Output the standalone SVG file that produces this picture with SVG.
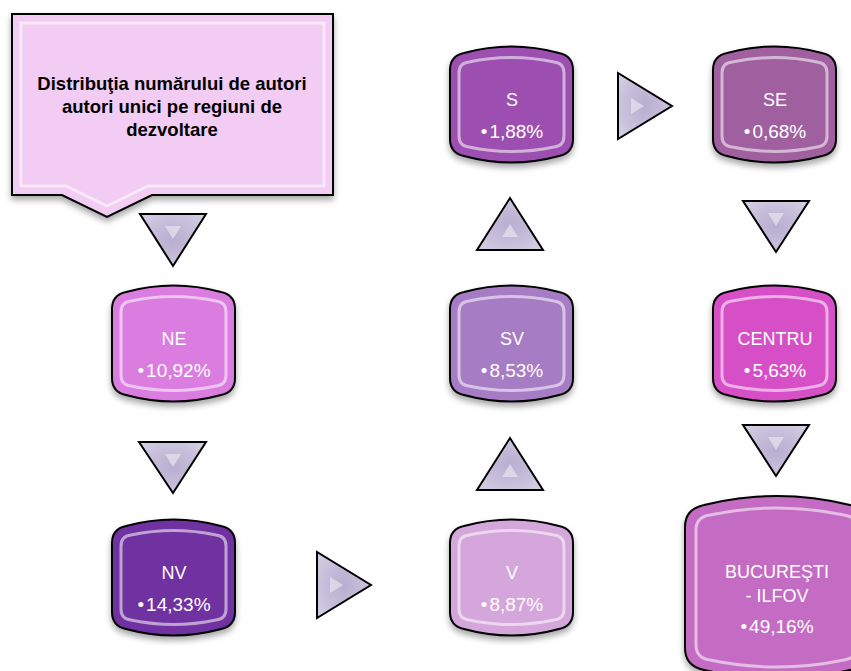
<svg xmlns="http://www.w3.org/2000/svg" width="851" height="671" viewBox="0 0 851 671">
<defs>
<style>
.node{stroke:#000;stroke-width:2}
.inner{fill:none;stroke:#fff;stroke-opacity:0.55;stroke-width:3}
.lbl{font-family:"Liberation Sans",Arial,sans-serif;font-size:18px;fill:#fff;text-anchor:middle}
.val{font-size:19px}
.title{font-family:"Liberation Sans",Arial,sans-serif;font-size:18.5px;font-weight:bold;fill:#000;text-anchor:middle}
.tri{fill:url(#tg);stroke:#000;stroke-width:2;stroke-linejoin:miter}
.trin{fill:#E2DDEC;opacity:0.8}
</style>
<radialGradient id="tg" cx="0.5" cy="0.5" r="0.6">
<stop offset="0" stop-color="#B8AED0"/>
<stop offset="0.6" stop-color="#C6BEDA"/>
<stop offset="1" stop-color="#D2CCE2"/>
</radialGradient>
<filter id="sh" x="-20%" y="-20%" width="140%" height="150%">
<feGaussianBlur in="SourceAlpha" stdDeviation="3"/>
<feOffset dx="0" dy="4" result="b"/>
<feComponentTransfer><feFuncA type="linear" slope="0.35"/></feComponentTransfer>
<feMerge><feMergeNode/><feMergeNode in="SourceGraphic"/></feMerge>
</filter>
<path id="can" d="M0,24 Q0,10 14,7 Q61.5,-6 109,7 Q123,10 123,24 L123,93 Q123,107 109,110 Q61.5,123 14,110 Q0,107 0,93 Z"/>
<path id="canIn" d="M9,27 Q9,17 19,16 Q61.5,7 104,16 Q114,17 114,27 L114,90 Q114,100 104,101 Q61.5,110 19,101 Q9,100 9,90 Z"/>
</defs>

<g id="title">
<path d="M12,14 L333,14 L333,195 L152,195 L107,217 L62,195 L12,195 Z" fill="#F2CCF3" stroke="#000" stroke-width="2" filter="url(#sh)"/>
<path d="M21,23 L324,23 L324,186 L148,186 L107,206 L66,186 L21,186 Z" fill="none" stroke="#fff" stroke-opacity="0.55" stroke-width="3"/>
<text class="title" x="172" y="90">Distribuţia numărului de autori</text>
<text class="title" x="172" y="113">autori unici pe regiuni de</text>
<text class="title" x="172" y="136">dezvoltare</text>
</g>

<g id="connectors">
<g><polygon class="tri" points="140,214 206,214 173,266"/><polygon class="trin" points="165,226 181,226 173,239"/></g>
<g><polygon class="tri" points="139,442 206,442 173,493"/><polygon class="trin" points="165,454 181,454 173,467"/></g>
<g><polygon class="tri" points="317,552 317,618 371,585"/><polygon class="trin" points="330,577 330,593 343,585"/></g>
<g><polygon class="tri" points="477,490 543,490 510,438"/><polygon class="trin" points="502,477 518,477 510,464"/></g>
<g><polygon class="tri" points="477,250 543,250 510,198"/><polygon class="trin" points="502,237 518,237 510,224"/></g>
<g><polygon class="tri" points="618,73 618,139 672,106"/><polygon class="trin" points="631,98 631,114 644,106"/></g>
<g><polygon class="tri" points="743,201 809,201 776,252"/><polygon class="trin" points="768,213 784,213 776,226"/></g>
<g><polygon class="tri" points="743,425 809,425 776,476"/><polygon class="trin" points="768,437 784,437 776,450"/></g>
</g>

<g id="NE" transform="translate(112,285)">
<use href="#can" class="node" fill="#DA7CE0" filter="url(#sh)"/>
<use href="#canIn" class="inner"/>
<text class="lbl" x="62" y="60">NE</text>
<text class="lbl val" x="62" y="92">•<tspan dx="2">10,92%</tspan></text>
</g>

<g id="NV" transform="translate(112,519)">
<use href="#can" class="node" fill="#7030A0" filter="url(#sh)"/>
<use href="#canIn" class="inner"/>
<text class="lbl" x="62" y="60">NV</text>
<text class="lbl val" x="62" y="92">•<tspan dx="2">14,33%</tspan></text>
</g>

<g id="V" transform="translate(450,519)">
<use href="#can" class="node" fill="#D4A6DB" filter="url(#sh)"/>
<use href="#canIn" class="inner"/>
<text class="lbl" x="62" y="60">V</text>
<text class="lbl val" x="62" y="92">•<tspan dx="2">8,87%</tspan></text>
</g>

<g id="SV" transform="translate(450,285)">
<use href="#can" class="node" fill="#A67CC5" filter="url(#sh)"/>
<use href="#canIn" class="inner"/>
<text class="lbl" x="62" y="60">SV</text>
<text class="lbl val" x="62" y="92">•<tspan dx="2">8,53%</tspan></text>
</g>

<g id="S" transform="translate(450,46)">
<use href="#can" class="node" fill="#9C50B0" filter="url(#sh)"/>
<use href="#canIn" class="inner"/>
<text class="lbl" x="62" y="60">S</text>
<text class="lbl val" x="62" y="92">•<tspan dx="2">1,88%</tspan></text>
</g>

<g id="SE" transform="translate(713,46)">
<use href="#can" class="node" fill="#A0609F" filter="url(#sh)"/>
<use href="#canIn" class="inner"/>
<text class="lbl" x="62" y="60">SE</text>
<text class="lbl val" x="62" y="92">•<tspan dx="2">0,68%</tspan></text>
</g>

<g id="CENTRU" transform="translate(713,285)">
<use href="#can" class="node" fill="#D750C6" filter="url(#sh)"/>
<use href="#canIn" class="inner"/>
<text class="lbl" x="62" y="60">CENTRU</text>
<text class="lbl val" x="62" y="92">•<tspan dx="2">5,63%</tspan></text>
</g>

<g id="BUCURESTI" transform="translate(685,495)">
<path class="node" fill="#C46CC4" filter="url(#sh)" d="M0,32 Q0,14 19,10 Q92,-8 165,10 Q184,14 184,32 L184,153 Q184,171 165,175 Q92,193 19,175 Q0,171 0,153 Z"/>
<path class="inner" d="M11,35 Q11,22 25,20 Q92,6 159,20 Q173,22 173,35 L173,150 Q173,163 159,165 Q92,179 25,165 Q11,163 11,150 Z"/>
<text class="lbl" x="92" y="83">BUCUREŞTI</text>
<text class="lbl" x="92" y="107">- ILFOV</text>
<text class="lbl val" x="92" y="138">•<tspan dx="2">49,16%</tspan></text>
</g>
</svg>
